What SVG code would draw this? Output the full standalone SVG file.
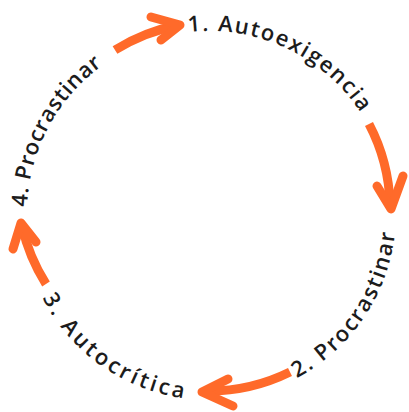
<svg xmlns="http://www.w3.org/2000/svg" xmlns:xlink="http://www.w3.org/1999/xlink" width="409" height="412" viewBox="0 0 409 412">
<style>
.lbl{font-family:"Open Sans","DejaVu Sans",sans-serif;font-size:22px;font-weight:600;fill:#1c1c1c}
.arr{fill:none;stroke:#ff6a2a;stroke-width:9;stroke-linecap:butt}
.head{fill:none;stroke:#ff6a2a;stroke-width:9;stroke-linejoin:round;stroke-linecap:round}
</style>
<defs>
<path id="cw" d="M27,213 A182,182 0 1 1 391,213 A182,182 0 1 1 27,213"/>
<path id="ccw" d="M22,213 A187,187 0 1 0 396,213 A187,187 0 1 0 22,213"/>
</defs>
<rect width="409" height="412" fill="#ffffff"/>
<g id="connectors">
<path class="arr" d="M115,50 A189,189 0 0 1 179,25"/>
<path class="head" d="M151,17 L180,25 L161,40"/>
<path class="arr" d="M369,124 A185,185 0 0 1 390,204"/>
<path class="head" d="M377,186 L391,209 L403,176"/>
<path class="arr" d="M290,372 A185,185 0 0 1 204,391"/>
<path class="head" d="M228,379 L202,392 L233,406"/>
<path class="arr" d="M46,284 A185,185 0 0 1 22,226"/>
<path class="head" d="M36,242 L21,223 L13,249"/>
</g>
<g id="n1"><text class="lbl"><textPath xlink:href="#cw" href="#cw" startOffset="265" textLength="200" lengthAdjust="spacing">1. Autoexigencia</textPath></text></g>
<g id="n2"><text class="lbl"><textPath xlink:href="#ccw" href="#ccw" startOffset="385" textLength="182" lengthAdjust="spacing">2. Procrastinar</textPath></text></g>
<g id="n3"><text class="lbl"><textPath xlink:href="#ccw" href="#ccw" startOffset="88" textLength="180" lengthAdjust="spacing">3. Autocrítica</textPath></text></g>
<g id="n4"><text class="lbl"><textPath xlink:href="#cw" href="#cw" startOffset="6" textLength="166" lengthAdjust="spacing">4. Procrastinar</textPath></text></g>
</svg>
